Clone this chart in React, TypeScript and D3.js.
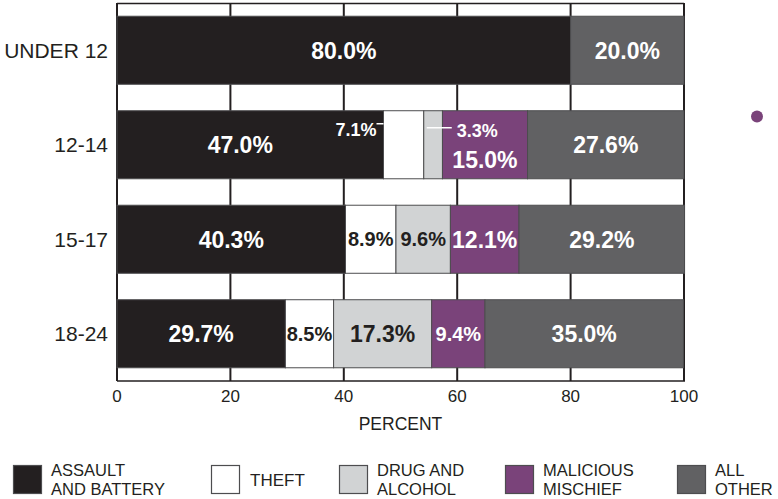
import React from "react";
import * as d3 from "d3";

const categories = ["UNDER 12", "12-14", "15-17", "18-24"];
const assault = [80.0, 47.0, 40.3, 29.7];
const theft = [0, 7.1, 8.9, 8.5];
const drug = [0, 3.3, 9.6, 17.3];
const malicious = [0, 15.0, 12.1, 9.4];
const allOther = [20.0, 27.6, 29.2, 35.0];
const seriesKeys = ["assault", "theft", "drug", "malicious", "other"];
const seriesLabels = [
  ["ASSAULT", "AND BATTERY"],
  ["THEFT"],
  ["DRUG AND", "ALCOHOL"],
  ["MALICIOUS", "MISCHIEF"],
  ["ALL", "OTHER"],
];
const xTicks = [0, 20, 40, 60, 80, 100];
const xTitle = "PERCENT";

const colors = ["#231f20", "#ffffff", "#d1d3d4", "#7a437a", "#616163"];
const textColors = ["#ffffff", "#231f20", "#231f20", "#ffffff", "#ffffff"];

const W = 778;
const H = 499;
const FONT = "'Liberation Sans', Arial, Helvetica, sans-serif";

export default function App() {
  const rows = categories.map((c, i) => ({
    cat: c,
    assault: assault[i],
    theft: theft[i],
    drug: drug[i],
    malicious: malicious[i],
    other: allOther[i],
  }));
  const stack = d3.stack<any>().keys(seriesKeys)(rows);
  const x = d3.scaleLinear().domain([0, 100]).range([117, 684]);
  const y = d3
    .scaleBand<string>()
    .domain(categories)
    .range([3, 381])
    .paddingInner(0.28)
    .paddingOuter(0.14);
  const bh = y.bandwidth();
  const top = 3;
  const bottom = 381;

  const legendX = [13, 211, 339, 505, 677];

  const segs: any[] = [];
  stack.forEach((layer, si) => {
    layer.forEach((d, ri) => {
      const v = d[1] - d[0];
      if (v <= 0) return;
      segs.push({ si, ri, x0: x(d[0]), x1: x(d[1]), v, cat: categories[ri] });
    });
  });

  const labels: any[] = [];
  const lines: any[] = [];
  segs.forEach((s) => {
    const cy = (y(s.cat) as number) + bh / 2;
    const w = s.x1 - s.x0;
    const txt = s.v.toFixed(1) + "%";
    const fill = textColors[s.si];
    let size = w >= 62 ? 23 : 20;
    let cx = (s.x0 + s.x1) / 2;
    let ly = cy;
    let anchor = "middle";
    if (s.cat === "12-14") {
      if (s.si === 0) cx -= 10;
      if (s.si === 1) {
        anchor = "end";
        size = 18;
        cx = s.x0 - 7;
        ly = cy - 15;
        lines.push({ x1: s.x0 - 7, x2: s.x0, y: cy - 21 });
        labels.push({ txt, x: cx, y: ly, size, fill: "#ffffff", anchor });
        return;
      }
      if (s.si === 2) {
        anchor = "start";
        size = 18;
        lines.push({ x1: s.x0 + 3, x2: s.x0 + 28, y: cy - 17 });
        labels.push({ txt, x: s.x0 + 33, y: cy - 14, size, fill: "#ffffff", anchor });
        return;
      }
      if (s.si === 3) ly = cy + 15;
    }
    labels.push({ txt, x: cx, y: ly, size, fill, anchor });
  });

  return (
    <svg
      width={W}
      height={H}
      style={{ position: "absolute", left: 0, top: 0, background: "#fff" }}
      fontFamily={FONT}
    >
      {xTicks.map((t) => (
        <line key={"g" + t} x1={x(t)} x2={x(t)} y1={top} y2={bottom} stroke="#231f20" strokeWidth={2} />
      ))}
      <line x1={x(0)} x2={x(100)} y1={top + 0.5} y2={top + 0.5} stroke="#231f20" strokeWidth={1.5} />
      <line x1={x(0)} x2={x(100) + 1} y1={bottom} y2={bottom} stroke="#231f20" strokeWidth={1.5} />
      {segs.map((s, i) => (
        <rect
          key={"s" + i}
          x={s.x0}
          y={y(s.cat)}
          width={s.x1 - s.x0}
          height={bh}
          fill={colors[s.si]}
          stroke="#4d4d4f"
          strokeWidth={1}
        />
      ))}
      {lines.map((l, i) => (
        <line key={"l" + i} x1={l.x1} x2={l.x2} y1={l.y} y2={l.y} stroke="#ffffff" strokeWidth={1.5} />
      ))}
      {labels.map((l, i) => (
        <text
          key={"t" + i}
          x={l.x}
          y={l.y}
          dy="0.36em"
          textAnchor={l.anchor}
          fontSize={l.size}
          fontWeight="bold"
          fill={l.fill}
        >
          {l.txt}
        </text>
      ))}
      {categories.map((c) => (
        <text
          key={"c" + c}
          x={108}
          y={(y(c) as number) + bh / 2}
          dy="0.36em"
          textAnchor="end"
          fontSize={21}
          fill="#231f20"
        >
          {c}
        </text>
      ))}
      {xTicks.map((t) => (
        <text key={"x" + t} x={x(t)} y={402} textAnchor="middle" fontSize={17} fill="#231f20">
          {t}
        </text>
      ))}
      <text x={(x(0) + x(100)) / 2} y={430} textAnchor="middle" fontSize={17.5} fill="#231f20">
        {xTitle}
      </text>
      <circle cx={757} cy={116.5} r={6} fill="#7a437a" />
      {seriesLabels.map((lab, i) => (
        <g key={"lg" + i}>
          <rect
            x={legendX[i] + 0.5}
            y={465.5}
            width={28}
            height={28}
            fill={colors[i]}
            stroke="#4d4d4f"
            strokeWidth={1.2}
          />
          {lab.length === 1 ? (
            <text x={legendX[i] + 39} y={485.5} fontSize={17} fill="#231f20">
              {lab[0]}
            </text>
          ) : (
            <g>
              <text x={legendX[i] + 38} y={476} fontSize={16.5} fill="#231f20">
                {lab[0]}
              </text>
              <text x={legendX[i] + 38} y={494.5} fontSize={16.5} fill="#231f20">
                {lab[1]}
              </text>
            </g>
          )}
        </g>
      ))}
    </svg>
  );
}
